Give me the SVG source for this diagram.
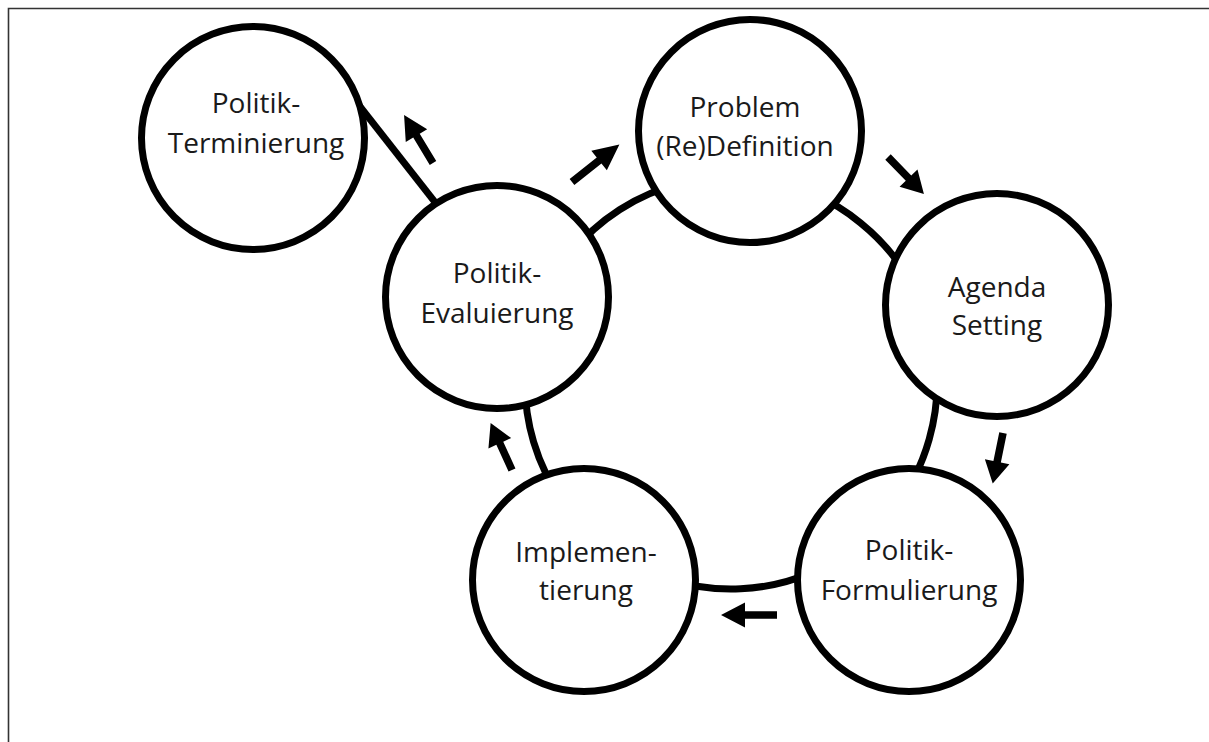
<svg xmlns="http://www.w3.org/2000/svg" width="1209" height="742" viewBox="0 0 1209 742">
<style>
.frame{stroke:#333;stroke-width:1.6;fill:none}
.link{stroke:#000;stroke-width:7;fill:none}
.node{fill:#fff;stroke:#000;stroke-width:7}
.lbl{font-family:"Open Sans","Noto Sans",sans-serif;font-size:28px;fill:#1a1a1a;text-anchor:middle}
.arw{fill:#000}
</style>
<defs>
<path id="arrow" d="M0,-3.8 L32,-3.8 L32,-12.5 L56,0 L32,12.5 L32,3.8 L0,3.8 Z"/>
</defs>
<rect width="1209" height="742" fill="#fff"/>
<path class="frame" d="M8.5,742 L8.5,8.5 L1209,8.5"/>
<g id="connectors">
<path class="link" d="M537.7,311.9 A206,206 0 0 1 746.4,177.6"/>
<path class="link" d="M746.4,177.6 A206,206 0 0 1 928.7,325.2"/>
<path class="link" d="M928.7,325.2 A206,206 0 0 1 869,536"/>
<path class="link" d="M869,536 A206,206 0 0 1 607.9,548.2"/>
<path class="link" d="M607.9,548.2 A206,206 0 0 1 537.7,311.9"/>
<path class="link" d="M353.6,98.3 L442.4,211.7"/>
<g class="arw">
<use href="#arrow" transform="translate(433,163) rotate(-121.1)"/>
<use href="#arrow" transform="translate(572,182) rotate(-38.4) scale(1.08,1)"/>
<use href="#arrow" transform="translate(888,157) rotate(45.8) scale(0.92,1)"/>
<use href="#arrow" transform="translate(1003,433) rotate(101.5) scale(0.92,1)"/>
<use href="#arrow" transform="translate(777,615) rotate(180)"/>
<use href="#arrow" transform="translate(512,470) rotate(-114.5) scale(0.92,1)"/>
</g>
</g>
<g id="terminierung">
<circle class="node" cx="253" cy="138" r="111.5"/>
<text class="lbl" x="256" y="113">Politik-</text>
<text class="lbl" x="256" y="153">Terminierung</text>
</g>
<g id="problem">
<circle class="node" cx="750" cy="131" r="111.5"/>
<text class="lbl" x="745" y="117">Problem</text>
<text class="lbl" x="745" y="156">(Re)Definition</text>
</g>
<g id="agenda">
<circle class="node" cx="997" cy="305" r="111.5"/>
<text class="lbl" x="997" y="297">Agenda</text>
<text class="lbl" x="997" y="335">Setting</text>
</g>
<g id="formulierung">
<circle class="node" cx="909" cy="580" r="111.5"/>
<text class="lbl" x="909" y="560">Politik-</text>
<text class="lbl" x="909" y="600">Formulierung</text>
</g>
<g id="implementierung">
<circle class="node" cx="584" cy="580" r="111.5"/>
<text class="lbl" x="586" y="562">Implemen-</text>
<text class="lbl" x="586" y="600">tierung</text>
</g>
<g id="evaluierung">
<circle class="node" cx="497" cy="297" r="111.5"/>
<text class="lbl" x="497" y="283">Politik-</text>
<text class="lbl" x="497" y="323">Evaluierung</text>
</g>
</svg>
